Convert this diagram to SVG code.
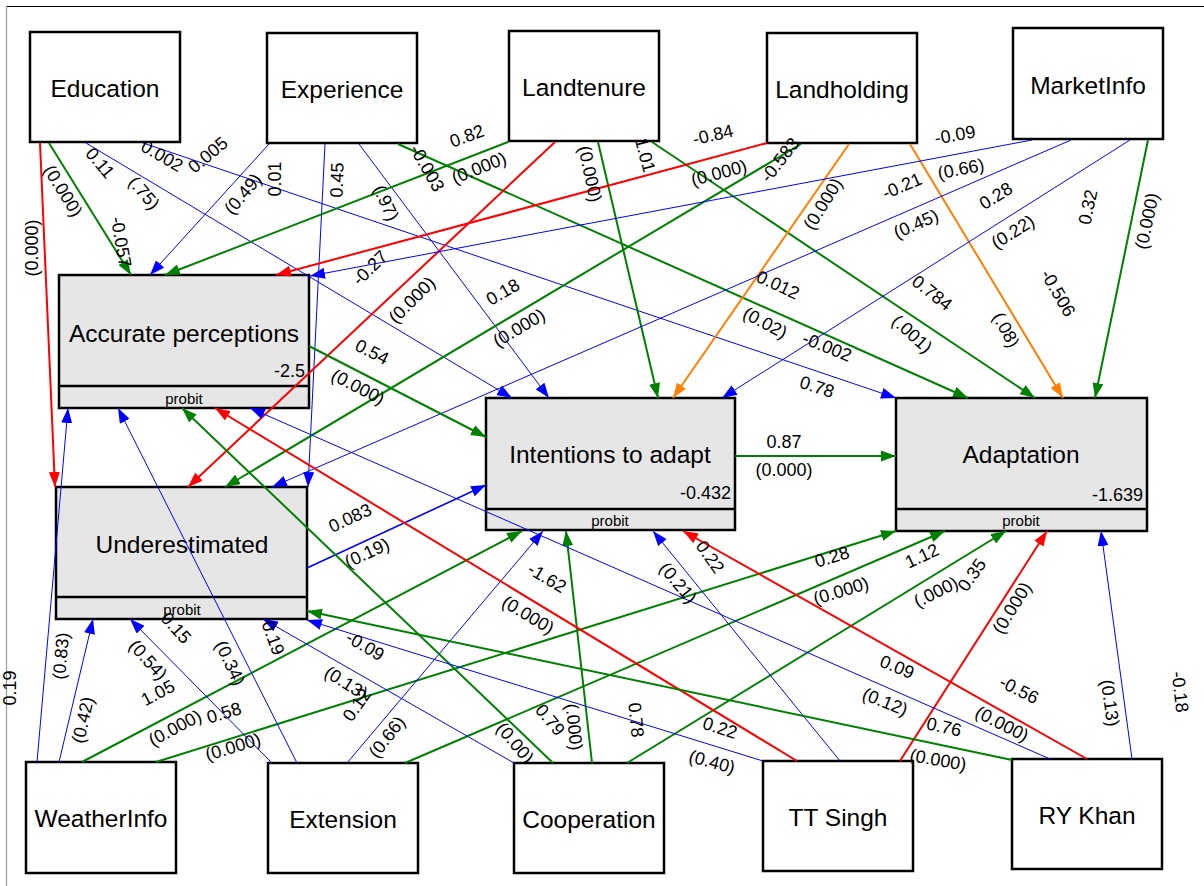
<svg xmlns="http://www.w3.org/2000/svg" width="1204" height="886" viewBox="0 0 1204 886">
<style>
.n{fill:#fff;stroke:#000;stroke-width:2.5}
.e{fill:#e6e6e6;stroke:#000;stroke-width:2.5}
.sep{stroke:#000;stroke-width:2.5}
.t{font-family:"Liberation Sans",Arial,sans-serif;font-size:24.5px;text-anchor:middle;fill:#000}
.v{font-family:"Liberation Sans",Arial,sans-serif;font-size:18px;text-anchor:end;fill:#000}
.p{font-family:"Liberation Sans",Arial,sans-serif;font-size:15px;text-anchor:middle;fill:#000}
.l{font-family:"Liberation Sans",Arial,sans-serif;font-size:18px;text-anchor:middle;dominant-baseline:central;fill:#000}
.g{stroke:#008000;stroke-width:2;fill:none;marker-end:url(#ag)}
.r{stroke:#ff0000;stroke-width:2;fill:none;marker-end:url(#ar)}
.o{stroke:#ff8000;stroke-width:2;fill:none;marker-end:url(#ao)}
.b{stroke:#0000ff;stroke-width:1;fill:none;marker-end:url(#ab)}
.bb{stroke:#0000ff;stroke-width:1.6;fill:none;marker-end:url(#ab)}
</style>
<defs>
<marker id="ab" viewBox="0 0 15 11" refX="15" refY="5.5" markerWidth="15" markerHeight="11" markerUnits="userSpaceOnUse" orient="auto"><path d="M0,0L15,5.5L0,11z" fill="#0000ff"/></marker>
<marker id="ag" viewBox="0 0 15 11" refX="15" refY="5.5" markerWidth="15" markerHeight="11" markerUnits="userSpaceOnUse" orient="auto"><path d="M0,0L15,5.5L0,11z" fill="#008000"/></marker>
<marker id="ar" viewBox="0 0 15 11" refX="15" refY="5.5" markerWidth="15" markerHeight="11" markerUnits="userSpaceOnUse" orient="auto"><path d="M0,0L15,5.5L0,11z" fill="#ff0000"/></marker>
<marker id="ao" viewBox="0 0 15 11" refX="15" refY="5.5" markerWidth="15" markerHeight="11" markerUnits="userSpaceOnUse" orient="auto"><path d="M0,0L15,5.5L0,11z" fill="#ff8000"/></marker>
</defs>
<rect x="0" y="0" width="1204" height="886" fill="#fff"/>
<line x1="6" y1="6.5" x2="1204" y2="6.5" stroke="#000" stroke-width="1.2"/>
<line x1="6.5" y1="6" x2="6.5" y2="886" stroke="#999" stroke-width="1.2"/>

<g id="node-education"><rect class="n" x="30" y="32" width="150" height="110"/><text class="t" x="105" y="97">Education</text></g>
<g id="node-experience"><rect class="n" x="267" y="33" width="150" height="110"/><text class="t" x="342" y="98">Experience</text></g>
<g id="node-landtenure"><rect class="n" x="509" y="31" width="150" height="110"/><text class="t" x="584" y="96">Landtenure</text></g>
<g id="node-landholding"><rect class="n" x="767" y="33" width="150" height="110"/><text class="t" x="842" y="98">Landholding</text></g>
<g id="node-marketinfo"><rect class="n" x="1013" y="28" width="150" height="111"/><text class="t" x="1088" y="94">MarketInfo</text></g>

<g id="node-accurate"><rect class="e" x="59" y="275" width="250" height="133"/><line class="sep" x1="59" y1="386" x2="309" y2="386"/><text class="t" x="184" y="342">Accurate perceptions</text><text class="v" x="305" y="377">-2.5</text><text class="p" x="184" y="404">probit</text></g>
<g id="node-underestimated"><rect class="e" x="56" y="487" width="251" height="132"/><line class="sep" x1="56" y1="597" x2="307" y2="597"/><text class="t" x="182" y="553">Underestimated</text><text class="p" x="182" y="615">probit</text></g>
<g id="node-intentions"><rect class="e" x="486" y="398" width="249" height="132"/><line class="sep" x1="486" y1="509" x2="735" y2="509"/><text class="t" x="610" y="463">Intentions to adapt</text><text class="v" x="731" y="499">-0.432</text><text class="p" x="610" y="526">probit</text></g>
<g id="node-adaptation"><rect class="e" x="896" y="398" width="251" height="133"/><line class="sep" x1="896" y1="509" x2="1147" y2="509"/><text class="t" x="1021" y="463">Adaptation</text><text class="v" x="1143" y="501">-1.639</text><text class="p" x="1021" y="526">probit</text></g>

<g id="node-weatherinfo"><rect class="n" x="26" y="762" width="150" height="111"/><text class="t" x="101" y="827">WeatherInfo</text></g>
<g id="node-extension"><rect class="n" x="268" y="763" width="150" height="110"/><text class="t" x="343" y="828">Extension</text></g>
<g id="node-cooperation"><rect class="n" x="514" y="763" width="150" height="110"/><text class="t" x="589" y="828">Cooperation</text></g>
<g id="node-ttsingh"><rect class="n" x="763" y="761" width="150" height="110"/><text class="t" x="838" y="826">TT Singh</text></g>
<g id="node-rykhan"><rect class="n" x="1012" y="759" width="150" height="110"/><text class="t" x="1087" y="824">RY Khan</text></g>

<g id="connectors">
<line class="r" x1="40" y1="143" x2="55" y2="487"/>
<line class="g" x1="49" y1="143" x2="131" y2="275"/>
<line class="b" x1="86" y1="143" x2="512" y2="398"/>
<line class="b" x1="143" y1="143" x2="896" y2="398"/>
<line class="b" x1="269" y1="144" x2="150" y2="275"/>
<line class="b" x1="325" y1="144" x2="308" y2="487"/>
<line class="b" x1="359" y1="144" x2="549" y2="398"/>
<line class="g" x1="398" y1="144" x2="968" y2="398"/>
<line class="g" x1="508" y1="142" x2="165" y2="275"/>
<line class="r" x1="555" y1="142" x2="188" y2="487"/>
<line class="g" x1="598" y1="142" x2="658" y2="398"/>
<line class="g" x1="652" y1="142" x2="1035" y2="398"/>
<line class="r" x1="767" y1="143" x2="276" y2="275"/>
<line class="g" x1="801" y1="144" x2="225" y2="487"/>
<line class="o" x1="849" y1="144" x2="673" y2="398"/>
<line class="o" x1="910" y1="144" x2="1063" y2="398"/>
<line class="b" x1="1032" y1="140" x2="310" y2="276"/>
<line class="b" x1="1071" y1="140" x2="272" y2="487"/>
<line class="b" x1="1130" y1="140" x2="722" y2="398"/>
<line class="g" x1="1148" y1="140" x2="1095" y2="398"/>
<line class="g" x1="309" y1="346" x2="486" y2="437"/>
<line class="bb" x1="307" y1="568" x2="486" y2="485"/>
<line class="g" x1="735" y1="456" x2="896" y2="456"/>
<line class="b" x1="37" y1="762" x2="68" y2="408"/>
<line class="b" x1="59" y1="762" x2="93" y2="619"/>
<line class="g" x1="82" y1="762" x2="522" y2="531"/>
<line class="g" x1="156" y1="762" x2="896" y2="531"/>
<line class="b" x1="272" y1="763" x2="130" y2="619"/>
<line class="b" x1="297" y1="763" x2="118" y2="408"/>
<line class="b" x1="347" y1="763" x2="543" y2="531"/>
<line class="g" x1="405" y1="763" x2="945" y2="531"/>
<line class="b" x1="514" y1="763" x2="263" y2="619"/>
<line class="g" x1="553" y1="763" x2="182" y2="408"/>
<line class="g" x1="592" y1="763" x2="566" y2="531"/>
<line class="g" x1="627" y1="763" x2="1006" y2="531"/>
<line class="b" x1="763" y1="761" x2="307" y2="620"/>
<line class="r" x1="797" y1="761" x2="215" y2="408"/>
<line class="b" x1="840" y1="761" x2="653" y2="531"/>
<line class="r" x1="900" y1="761" x2="1047" y2="531"/>
<line class="g" x1="1012" y1="760" x2="307" y2="611"/>
<line class="b" x1="1050" y1="759" x2="250" y2="408"/>
<line class="r" x1="1087" y1="759" x2="683" y2="531"/>
<line class="b" x1="1132" y1="759" x2="1101" y2="531"/>
</g>

<g id="edge-labels">
<text class="l" transform="translate(32 248) rotate(-90)">(0.000)</text>
<text class="l" transform="translate(63 191) rotate(58)">(0.000)</text>
<text class="l" transform="translate(121 242) rotate(80)">-0.057</text>
<text class="l" transform="translate(100 163) rotate(50)">0.11</text>
<text class="l" transform="translate(144 193) rotate(50)">(.75)</text>
<text class="l" transform="translate(162 156) rotate(30)">0.002</text>
<text class="l" transform="translate(208 155) rotate(-40)">0.005</text>
<text class="l" transform="translate(243 194) rotate(-50)">(0.49)</text>
<text class="l" transform="translate(275 179) rotate(-90)">0.01</text>
<text class="l" transform="translate(337 180) rotate(-88)">0.45</text>
<text class="l" transform="translate(386 203) rotate(65)">(.97)</text>
<text class="l" transform="translate(427 168) rotate(60)">-0.003</text>
<text class="l" transform="translate(467 136) rotate(-20)">0.82</text>
<text class="l" transform="translate(479 168) rotate(-22)">(0.000)</text>
<text class="l" transform="translate(370 268) rotate(-44)">-0.27</text>
<text class="l" transform="translate(412 300) rotate(-45)">(0.000)</text>
<text class="l" transform="translate(503 292) rotate(-30)">0.18</text>
<text class="l" transform="translate(519 328) rotate(-31)">(0.000)</text>
<text class="l" transform="translate(590 174) rotate(78)">(0.000)</text>
<text class="l" transform="translate(645 155) rotate(75)">1.01</text>
<text class="l" transform="translate(713 135) rotate(-13)">-0.84</text>
<text class="l" transform="translate(719 173) rotate(-15)">(0.000)</text>
<text class="l" transform="translate(780 160) rotate(-52)">-0.583</text>
<text class="l" transform="translate(823 204) rotate(-58)">(0.000)</text>
<text class="l" transform="translate(955 135) rotate(-10)">-0.09</text>
<text class="l" transform="translate(961 169) rotate(-11)">(0.66)</text>
<text class="l" transform="translate(902 186) rotate(-23)">-0.21</text>
<text class="l" transform="translate(916 224) rotate(-24)">(0.45)</text>
<text class="l" transform="translate(996 196) rotate(-32)">0.28</text>
<text class="l" transform="translate(1013 232) rotate(-32)">(0.22)</text>
<text class="l" transform="translate(1088 207) rotate(-78)">0.32</text>
<text class="l" transform="translate(1147 221) rotate(-78)">(0.000)</text>
<text class="l" transform="translate(778 285) rotate(25)">0.012</text>
<text class="l" transform="translate(765 323) rotate(28)">(0.02)</text>
<text class="l" transform="translate(827 347) rotate(22)">-0.002</text>
<text class="l" transform="translate(817 387) rotate(18)">0.78</text>
<text class="l" transform="translate(932 293) rotate(38)">0.784</text>
<text class="l" transform="translate(912 334) rotate(42)">(.001)</text>
<text class="l" transform="translate(1058 293) rotate(60)">-0.506</text>
<text class="l" transform="translate(1006 330) rotate(62)">(.08)</text>
<text class="l" transform="translate(372 352) rotate(27)">0.54</text>
<text class="l" transform="translate(358 387) rotate(27)">(0.000)</text>
<text class="l" transform="translate(784 442)">0.87</text>
<text class="l" transform="translate(784 470)">(0.000)</text>
<text class="l" transform="translate(350 518) rotate(-25)">0.083</text>
<text class="l" transform="translate(367 553) rotate(-25)">(0.19)</text>
<text class="l" transform="translate(61 656) rotate(-85)">(0.83)</text>
<text class="l" transform="translate(83 720) rotate(-77)">(0.42)</text>
<text class="l" transform="translate(10 688) rotate(-90)">0.19</text>
<text class="l" transform="translate(176 628) rotate(48)">0.15</text>
<text class="l" transform="translate(148 660) rotate(48)">(0.54)</text>
<text class="l" transform="translate(158 693) rotate(-28)">1.05</text>
<text class="l" transform="translate(175 728) rotate(-28)">(0.000)</text>
<text class="l" transform="translate(224 713) rotate(-17)">0.58</text>
<text class="l" transform="translate(233 747) rotate(-17)">(0.000)</text>
<text class="l" transform="translate(230 663) rotate(65)">(0.34)</text>
<text class="l" transform="translate(273 638) rotate(70)">0.19</text>
<text class="l" transform="translate(365 646) rotate(30)">-0.09</text>
<text class="l" transform="translate(346 683) rotate(32)">(0.13)</text>
<text class="l" transform="translate(357 705) rotate(-55)">0.12</text>
<text class="l" transform="translate(387 737) rotate(-52)">(0.66)</text>
<text class="l" transform="translate(547 578) rotate(31)">-1.62</text>
<text class="l" transform="translate(528 615) rotate(31)">(0.000)</text>
<text class="l" transform="translate(550 720) rotate(50)">0.79</text>
<text class="l" transform="translate(515 743) rotate(50)">(0.00)</text>
<text class="l" transform="translate(574 727) rotate(84)">(.000)</text>
<text class="l" transform="translate(636 720) rotate(84)">0.78</text>
<text class="l" transform="translate(720 728) rotate(18)">0.22</text>
<text class="l" transform="translate(712 762) rotate(15)">(0.40)</text>
<text class="l" transform="translate(710 557) rotate(55)">0.22</text>
<text class="l" transform="translate(678 583) rotate(50)">(0.21)</text>
<text class="l" transform="translate(832 557) rotate(-17)">0.28</text>
<text class="l" transform="translate(841 591) rotate(-17)">(0.000)</text>
<text class="l" transform="translate(922 556) rotate(-25)">1.12</text>
<text class="l" transform="translate(936 592) rotate(-27)">(.000)</text>
<text class="l" transform="translate(972 575) rotate(-55)">0.35</text>
<text class="l" transform="translate(1012 608) rotate(-58)">(0.000)</text>
<text class="l" transform="translate(897 667) rotate(22)">0.09</text>
<text class="l" transform="translate(885 702) rotate(22)">(0.12)</text>
<text class="l" transform="translate(1019 690) rotate(27)">-0.56</text>
<text class="l" transform="translate(1002 724) rotate(27)">(0.000)</text>
<text class="l" transform="translate(944 727) rotate(13)">0.76</text>
<text class="l" transform="translate(938 760) rotate(10)">(0.000)</text>
<text class="l" transform="translate(1110 703) rotate(82)">(0.13)</text>
<text class="l" transform="translate(1180 692) rotate(83)">-0.18</text>
</g>
</svg>
